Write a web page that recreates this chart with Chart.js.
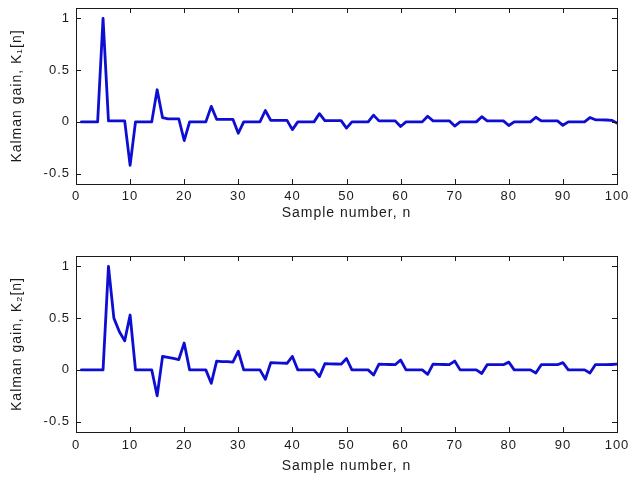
<!DOCTYPE html>
<html>
<head>
<meta charset="utf-8">
<script src="https://cdn.jsdelivr.net/npm/chart.js@4.4.1/dist/chart.umd.min.js"></script>
<style>
  html, body { margin: 0; padding: 0; background: #ffffff; }
  #wrap { position: relative; width: 631px; height: 477px; background: #ffffff; }
  canvas { position: absolute; left: 0; }
</style>
</head>
<body>
<div id="wrap">
  <canvas id="c1" width="631" height="240" style="top:0px"></canvas>
  <canvas id="c2" width="631" height="237" style="top:240px"></canvas>
</div>
<script>
// ---- data ----
const sampleN = Array.from({length: 100}, (_, i) => i + 1);
const xTicks = [0, 10, 20, 30, 40, 50, 60, 70, 80, 90, 100];
const yTicks = [-0.5, 0, 0.5, 1];
const xTitle = 'Sample number, n';
const yTitle1 = 'Kalman gain, K\u2081[n]';
const yTitle2 = 'Kalman gain, K\u2082[n]';

const gainK1 = [
  0, 0, 0, 0, 1.0, 0.01, 0.01, 0.01, 0.01, -0.42,
  0, 0, 0, 0, 0.31, 0.04, 0.03, 0.03, 0.03, -0.18,
  0, 0, 0, 0, 0.15, 0.025, 0.025, 0.025, 0.025, -0.11,
  0, 0, 0, 0, 0.11, 0.015, 0.015, 0.015, 0.015, -0.075,
  0, 0, 0, 0, 0.08, 0.012, 0.012, 0.012, 0.012, -0.06,
  0, 0, 0, 0, 0.065, 0.01, 0.01, 0.01, 0.01, -0.045,
  0, 0, 0, 0, 0.055, 0.01, 0.01, 0.01, 0.01, -0.04,
  0, 0, 0, 0, 0.05, 0.01, 0.01, 0.01, 0.01, -0.035,
  0, 0, 0, 0, 0.045, 0.01, 0.01, 0.01, 0.01, -0.033,
  0, 0, 0, 0, 0.042, 0.02, 0.02, 0.018, 0.015, -0.012
];

const gainK2 = [
  0, 0, 0, 0, 0, 1.0, 0.5, 0.37, 0.28, 0.53,
  0, 0, 0, 0, -0.25, 0.13, 0.12, 0.11, 0.10, 0.26,
  0, 0, 0, 0, -0.13, 0.085, 0.08, 0.08, 0.075, 0.18,
  0, 0, 0, 0, -0.09, 0.07, 0.068, 0.066, 0.064, 0.13,
  0, 0, 0, 0, -0.065, 0.06, 0.058, 0.057, 0.055, 0.11,
  0, 0, 0, 0, -0.05, 0.055, 0.053, 0.052, 0.05, 0.095,
  0, 0, 0, 0, -0.043, 0.055, 0.053, 0.052, 0.05, 0.085,
  0, 0, 0, 0, -0.035, 0.05, 0.05, 0.05, 0.05, 0.075,
  0, 0, 0, 0, -0.03, 0.05, 0.05, 0.05, 0.05, 0.07,
  0, 0, 0, 0, -0.03, 0.05, 0.05, 0.05, 0.052, 0.055
];

// ---- styling ----
const LINE_COLOR = 'rgb(14,14,210)';
const TEXT_COLOR = '#1a1a1a';
const TICK_FONT = { family: '"Liberation Sans", Arial, sans-serif', size: 13 };
const TITLE_FONT = { family: '"Liberation Sans", Arial, sans-serif', size: 14 };

const spacingPlugin = {
  id: 'letterSpacing',
  beforeUpdate(chart) { chart.ctx.letterSpacing = '1px'; },
  beforeDraw(chart) { chart.ctx.letterSpacing = '1px'; }
};

const boxPlugin = {
  id: 'matlabBox',
  afterDatasetsDraw(chart) {
    const { ctx, chartArea: a, scales } = chart;
    const xs = scales.x, ys = scales.y;
    const L = 5;
    ctx.save();
    ctx.strokeStyle = '#1a1a1a';
    ctx.lineWidth = 1;
    ctx.beginPath();
    xTicks.forEach(v => {
      const px = Math.round(xs.getPixelForValue(v)) + 0.5;
      ctx.moveTo(px, a.bottom); ctx.lineTo(px, a.bottom - L);
      ctx.moveTo(px, a.top); ctx.lineTo(px, a.top + L);
    });
    yTicks.forEach(v => {
      const py = Math.round(ys.getPixelForValue(v)) + 0.5;
      ctx.moveTo(a.left, py); ctx.lineTo(a.left + L, py);
      ctx.moveTo(a.right, py); ctx.lineTo(a.right - L, py);
    });
    ctx.stroke();
    ctx.strokeRect(Math.round(a.left) + 0.5, Math.round(a.top) + 0.5,
                   Math.round(a.right - a.left), Math.round(a.bottom - a.top));
    ctx.restore();
  }
};

function makeChart(id, values, yTitle, pad, xHeight, xPad) {
  const data = sampleN.map((n, i) => ({ x: n, y: values[i] }));
  return new Chart(document.getElementById(id), {
    type: 'line',
    data: {
      datasets: [{
        data: data,
        borderColor: LINE_COLOR,
        borderWidth: 2.8,
        pointRadius: 0,
        tension: 0,
        fill: false,
        borderJoinStyle: 'round',
        borderCapStyle: 'round'
      }]
    },
    options: {
      responsive: false,
      animation: false,
      layout: { padding: pad },
      plugins: { legend: { display: false }, tooltip: { enabled: false } },
      scales: {
        x: {
          type: 'linear',
          min: 0, max: 100,
          afterBuildTicks: s => { s.ticks = xTicks.map(v => ({ value: v })); },
          afterFit: s => { s.height = xHeight; s.paddingLeft = 0; s.paddingRight = 0; },
          grid: { display: false, drawTicks: false },
          border: { display: false },
          ticks: { color: TEXT_COLOR, font: TICK_FONT, padding: xPad, maxRotation: 0, autoSkip: false,
                   callback: v => String(v) },
          title: { display: true, text: xTitle, color: TEXT_COLOR, font: TITLE_FONT, padding: { top: 2, bottom: 2 } }
        },
        y: {
          type: 'linear',
          min: -0.6, max: 1.1,
          afterBuildTicks: s => { s.ticks = yTicks.map(v => ({ value: v })); },
          afterFit: s => { s.width = 71; s.paddingTop = 0; s.paddingBottom = 0; },
          grid: { display: false, drawTicks: false },
          border: { display: false },
          ticks: { color: TEXT_COLOR, font: TICK_FONT, padding: 6, autoSkip: false,
                   callback: v => String(v) },
          title: { display: true, text: yTitle, color: TEXT_COLOR, font: TITLE_FONT, padding: { top: 4, bottom: 4 } }
        }
      }
    },
    plugins: [spacingPlugin, boxPlugin]
  });
}

makeChart('c1', gainK1, yTitle1, { left: 5, top: 8, right: 14, bottom: 16 }, 40, 5);
makeChart('c2', gainK2, yTitle2, { left: 5, top: 16, right: 14, bottom: 0 }, 45, 6);
</script>
</body>
</html>
